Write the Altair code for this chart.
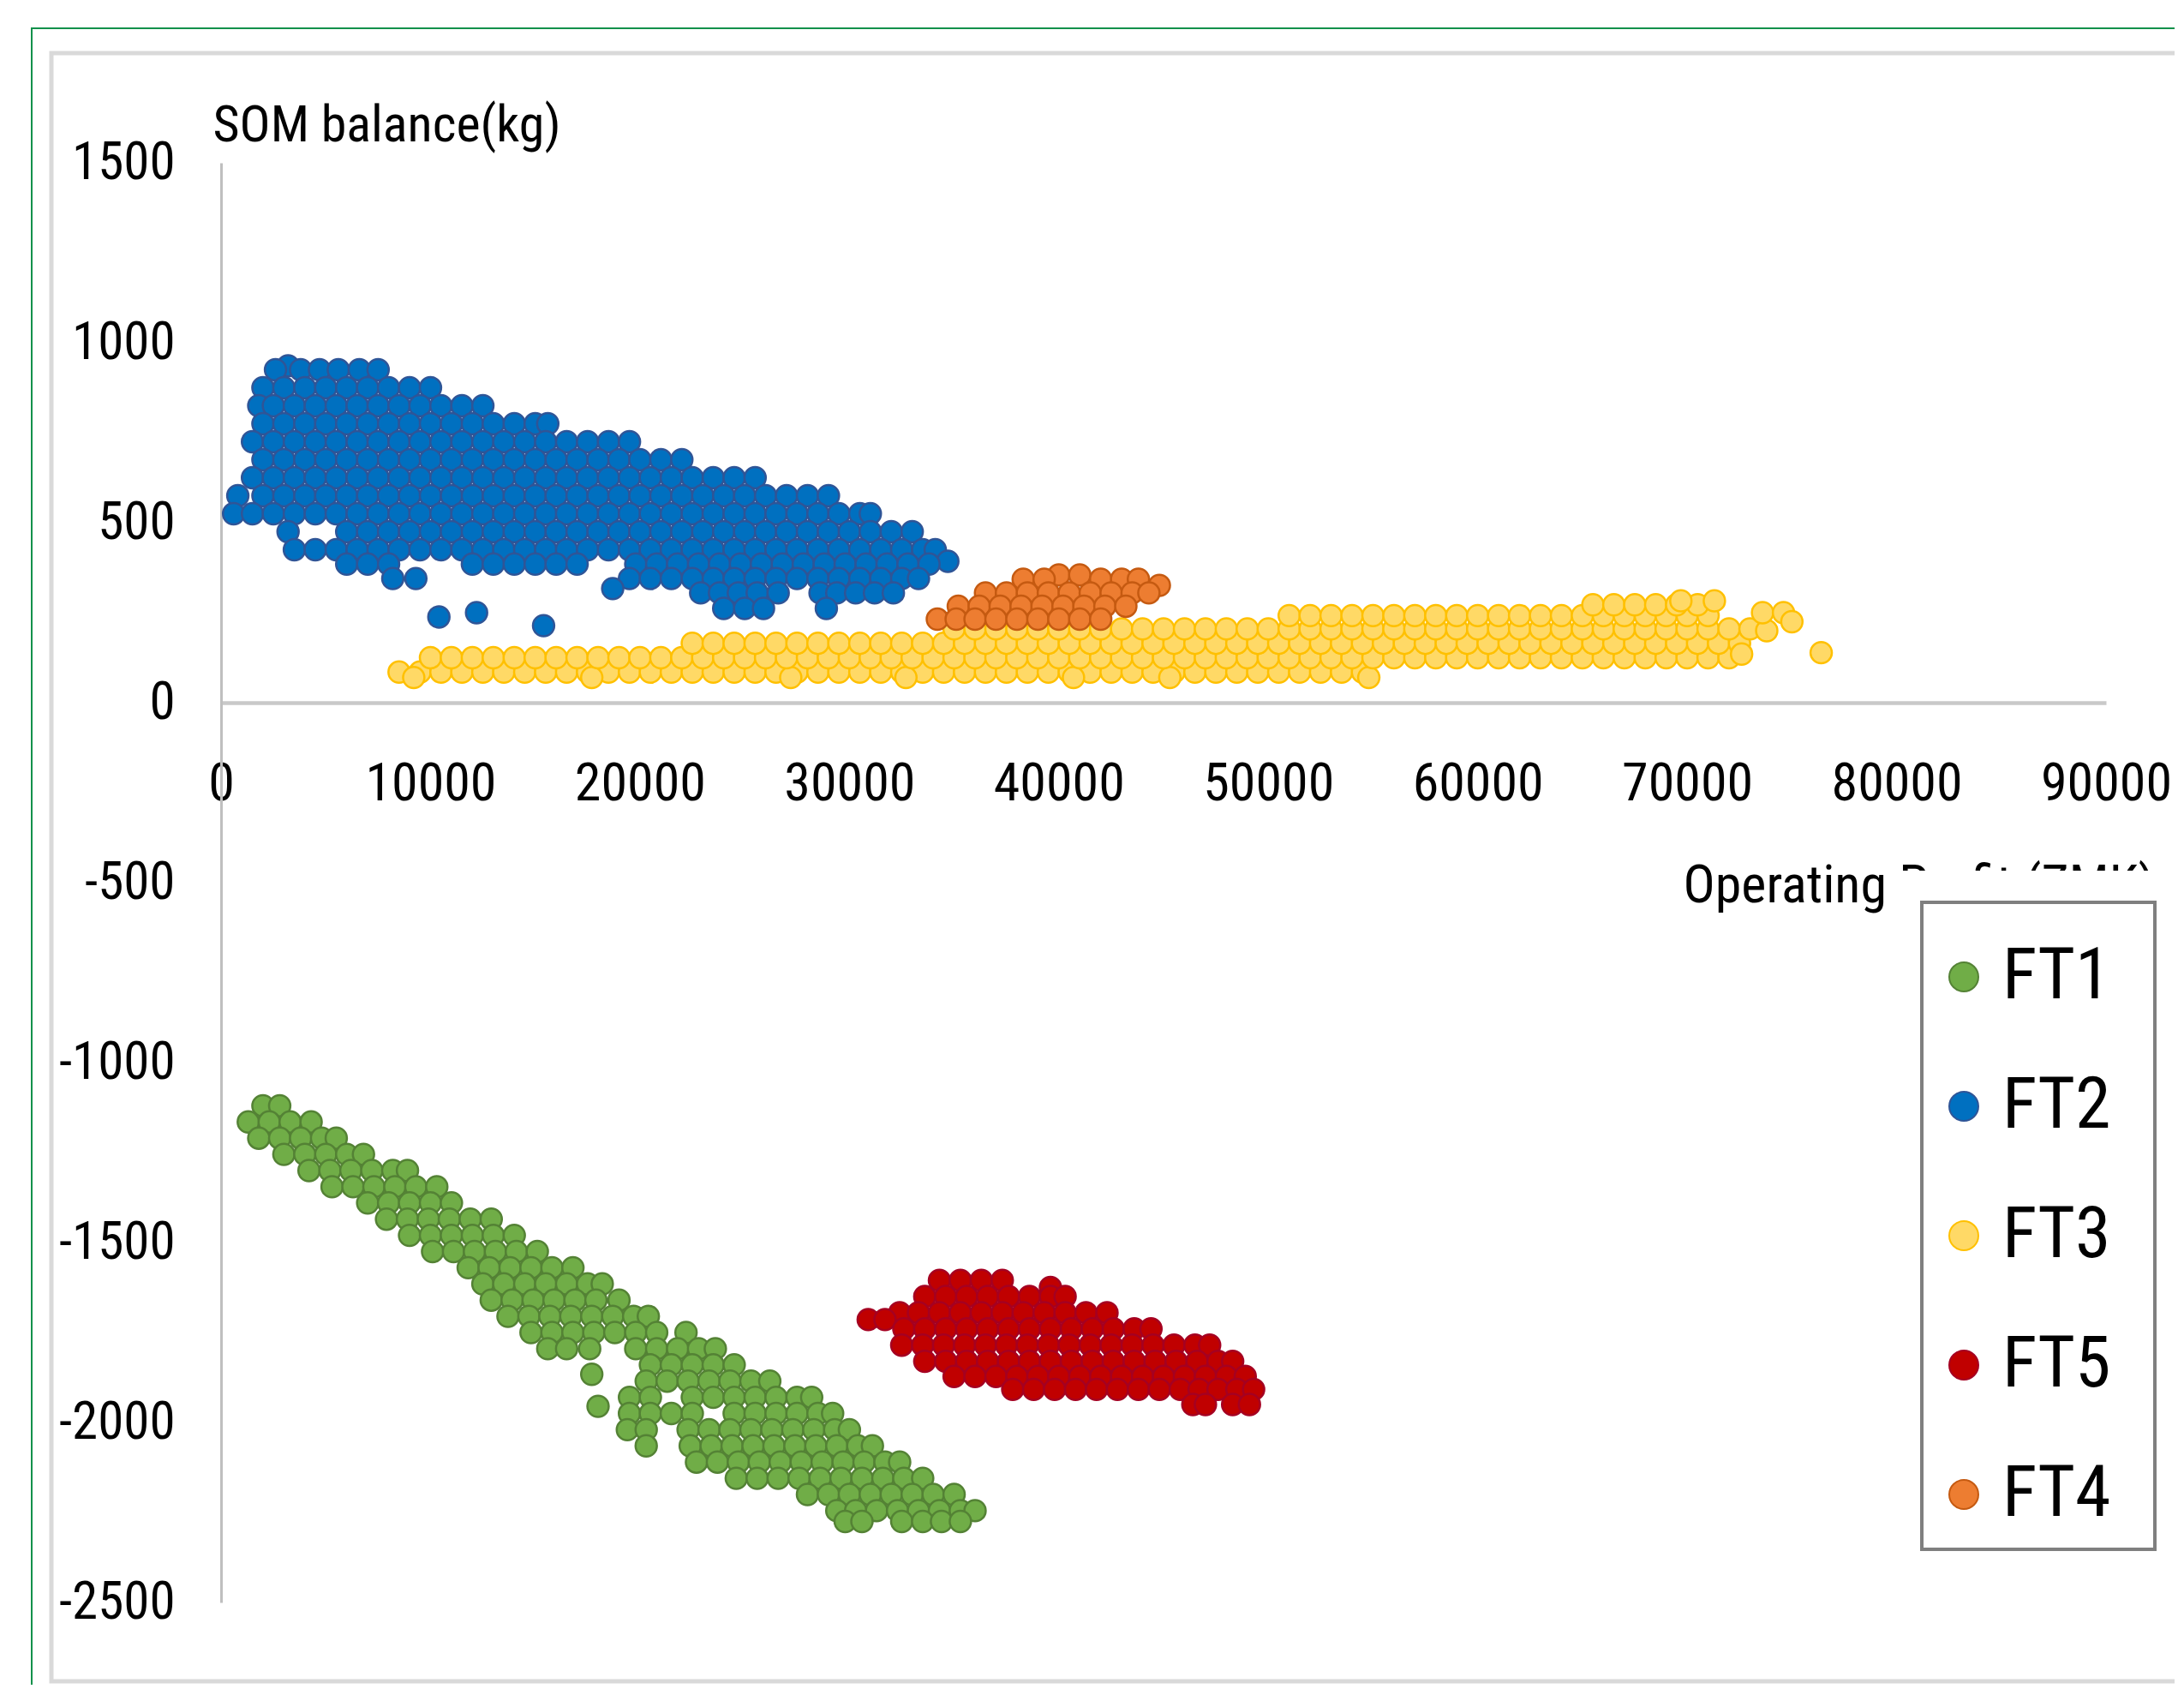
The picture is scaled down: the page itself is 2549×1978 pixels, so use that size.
import altair as alt
import pandas as pd

# ---------------- data (x values in thousand ZMK, y in kg) ----------------
SERIES_ORDER = ["FT1", "FT2", "FT3", "FT5", "FT4"]
FILL_COLORS = ["#70AD47", "#0070C0", "#FFD966", "#C00000", "#ED7D31"]
STROKE_COLORS = ["#548235", "#2F5597", "#FFC000", "#A50021", "#C55A11"]
X_TICKS = [0, 10000, 20000, 30000, 40000, 50000, 60000, 70000, 80000, 90000]
Y_TICKS = [-2500, -2000, -1500, -1000, -500, 0, 500, 1000, 1500]

FT1_ROWS = [
    (-1120, [2.0, 2.8]),
    (-1165, [1.3, 2.3, 3.3, 4.3]),
    (-1210, [1.8, 2.8, 3.8, 4.8, 5.5]),
    (-1255, [3.0, 4.0, 5.0, 6.0, 6.8]),
    (-1300, [4.2, 5.2, 6.2, 7.2, 8.2, 8.9]),
    (-1345, [5.3, 6.3, 7.3, 8.3, 9.3, 10.3]),
    (-1390, [7.0, 8.0, 9.0, 10.0, 11.0]),
    (-1435, [7.9, 8.9, 9.9, 10.9, 11.9, 12.9]),
    (-1480, [9.0, 10.0, 11.0, 12.0, 13.0, 14.0]),
    (-1525, [10.1, 11.1, 12.1, 13.1, 14.1, 15.1]),
    (-1570, [11.8, 12.8, 13.8, 14.8, 15.8, 16.8]),
    (-1615, [12.5, 13.5, 14.5, 15.5, 16.5, 17.5, 18.2]),
    (-1660, [12.9, 13.9, 14.9, 15.9, 16.9, 17.9, 19.0]),
    (-1705, [13.7, 14.7, 15.7, 16.7, 17.7, 18.7, 19.7, 20.4]),
    (-1750, [14.8, 15.8, 16.8, 17.8, 18.8, 19.8, 20.8, 22.2]),
    (-1795, [15.6, 16.5, 17.6, 19.8, 20.8, 21.8, 22.8, 23.6]),
    (-1840, [20.5, 21.5, 22.5, 23.5, 24.5]),
    (-1866, [17.7]),
    (-1885, [20.3, 21.3, 22.3, 23.3, 24.3, 25.3, 26.2]),
    (-1930, [19.5, 20.5, 22.5, 23.5, 24.5, 25.5, 26.5, 27.5, 28.2]),
    (-1955, [18.0]),
    (-1975, [19.5, 20.5, 21.5, 22.5, 24.5, 25.5, 26.5, 27.5, 28.5, 29.2]),
    (-2020, [19.4, 20.3, 22.3, 23.3, 24.3, 25.3, 26.3, 27.3, 28.3, 29.3, 30.0]),
    (-2065, [20.3, 22.4, 23.4, 24.4, 25.4, 26.4, 27.4, 28.4, 29.4, 30.4, 31.1]),
    (-2110, [22.7, 23.7, 24.7, 25.7, 26.7, 27.7, 28.7, 29.7, 30.7, 31.7, 32.4]),
    (-2155, [24.6, 25.6, 26.6, 27.6, 28.6, 29.6, 30.6, 31.6, 32.6, 33.5]),
    (-2200, [28.0, 29.0, 30.0, 31.0, 32.0, 33.0, 34.0, 35.0]),
    (-2245, [29.4, 30.3, 31.3, 32.3, 33.3, 34.3, 35.3, 36.0]),
    (-2275, [29.8, 30.6, 32.5, 33.5, 34.4, 35.3]),
]

FT2_ROWS = [
    (936, [3.2]),
    (925, [2.6, 3.8, 4.7, 5.6, 6.6, 7.5]),
    (875, [2.0, 3.0, 4.0, 5.0, 6.0, 7.0, 8.0, 9.0, 10.0]),
    (825, [1.8, 2.5, 3.5, 4.5, 5.5, 6.5, 7.5, 8.5, 9.5, 10.5, 11.5, 12.5]),
    (775, [2.0, 3.0, 4.0, 5.0, 6.0, 7.0, 8.0, 9.0, 10.0, 11.0, 12.0, 13.0, 14.0, 15.0, 15.6]),
    (725, [1.5, 2.5, 3.5, 4.5, 5.5, 6.5, 7.5, 8.5, 9.5, 10.5, 11.5, 12.5, 13.5, 14.5, 15.5, 16.5,
           17.5, 18.5, 19.5]),
    (675, [2.0, 3.0, 4.0, 5.0, 6.0, 7.0, 8.0, 9.0, 10.0, 11.0, 12.0, 13.0, 14.0, 15.0, 16.0, 17.0,
           18.0, 19.0, 20.0, 21.0, 22.0]),
    (625, [1.5, 2.5, 3.5, 4.5, 5.5, 6.5, 7.5, 8.5, 9.5, 10.5, 11.5, 12.5, 13.5, 14.5, 15.5, 16.5,
           17.5, 18.5, 19.5, 20.5, 21.5, 22.5, 23.5, 24.5, 25.5]),
    (575, [0.8, 2.0, 3.0, 4.0, 5.0, 6.0, 7.0, 8.0, 9.0, 10.0, 11.0, 12.0, 13.0, 14.0, 15.0, 16.0,
           17.0, 18.0, 19.0, 20.0, 21.0, 22.0, 23.0, 24.0, 25.0, 26.0, 27.0, 28.0, 29.0]),
    (525, [0.6, 1.5, 2.5, 3.5, 4.5, 5.5, 6.5, 7.5, 8.5, 9.5, 10.5, 11.5, 12.5, 13.5, 14.5, 15.5,
           16.5, 17.5, 18.5, 19.5, 20.5, 21.5, 22.5, 23.5, 24.5, 25.5, 26.5, 27.5, 28.5, 29.5,
           30.5, 31.0]),
    (475, [3.2, 6.0, 7.0, 8.0, 9.0, 10.0, 11.0, 12.0, 13.0, 14.0, 15.0, 16.0, 17.0, 18.0, 19.0,
           20.0, 21.0, 22.0, 23.0, 24.0, 25.0, 26.0, 27.0, 28.0, 29.0, 30.0, 31.0, 32.0, 33.0]),
    (425, [3.5, 4.5, 5.5, 6.5, 7.5, 8.5, 9.5, 10.5, 11.5, 12.5, 13.5, 14.5, 15.5, 16.5, 17.5,
           18.5, 19.5, 20.5, 21.5, 22.5, 23.5, 24.5, 25.5, 26.5, 27.5, 28.5, 29.5, 30.5, 31.5,
           32.5, 33.5, 34.1]),
    (393, [34.7]),
    (385, [6.0, 7.0, 8.0, 12.0, 13.0, 14.0, 15.0, 16.0, 17.0, 19.8, 20.8, 21.8, 22.8, 23.8, 24.8,
           25.8, 26.8, 27.8, 28.8, 29.8, 30.8, 31.8, 32.8, 33.8]),
    (345, [8.2, 9.3, 19.5, 20.5, 21.5, 22.5, 23.5, 24.5, 25.5, 26.5, 27.5, 28.5, 29.5, 30.5,
           31.5, 32.5, 33.3]),
    (317, [18.7]),
    (305, [22.9, 23.8, 24.7, 25.6, 26.6, 28.6, 29.4, 30.3, 31.2, 32.1]),
    (262, [24.0, 25.0, 25.9, 28.9]),
    (250, [12.2]),
    (238, [10.4]),
    (214, [15.4]),
]

FT3_ROWS = [
    (85, [8.5, 9.5, 10.5, 11.5, 12.5, 13.5, 14.5, 15.5, 16.5, 17.5, 18.5, 19.5, 20.5, 21.5, 22.5,
          23.5, 24.5, 25.5, 26.5, 27.5, 28.5, 29.5, 30.5, 31.5, 32.5, 33.5, 34.5, 35.5, 36.5,
          37.5, 38.5, 39.5, 40.5, 41.5, 42.5, 43.5, 44.5, 45.5, 46.5, 47.5, 48.5, 49.5, 50.5,
          51.5, 52.5, 53.5, 54.5]),
    (70, [9.2, 17.7, 27.2, 32.7, 40.7, 45.3, 54.8]),
    (125, [10.0, 11.0, 12.0, 13.0, 14.0, 15.0, 16.0, 17.0, 18.0, 19.0, 20.0, 21.0, 22.0, 23.0,
           24.0, 25.0, 26.0, 27.0, 28.0, 29.0, 30.0, 31.0, 32.0, 33.0, 34.0, 35.0, 36.0, 37.0,
           38.0, 39.0, 40.0, 41.0, 42.0, 43.0, 44.0, 45.0, 46.0, 47.0, 48.0, 49.0, 50.0, 51.0,
           52.0, 53.0, 54.0, 55.0, 56.0, 57.0, 58.0, 59.0, 60.0, 61.0, 62.0, 63.0, 64.0, 65.0,
           66.0, 67.0, 68.0, 69.0, 70.0, 71.0, 72.0]),
    (165, [22.5, 23.5, 24.5, 25.5, 26.5, 27.5, 28.5, 29.5, 30.5, 31.5, 32.5, 33.5, 34.5, 35.5,
           36.5, 37.5, 38.5, 39.5, 40.5, 41.5, 42.5, 43.5, 44.5, 45.5, 46.5, 47.5, 48.5, 49.5,
           50.5, 51.5, 52.5, 53.5, 54.5, 55.5, 56.5, 57.5, 58.5, 59.5, 60.5, 61.5, 62.5, 63.5,
           64.5, 65.5, 66.5, 67.5, 68.5, 69.5, 70.5, 71.5, 72.5]),
    (205, [35.0, 36.0, 37.0, 38.0, 39.0, 40.0, 41.0, 42.0, 43.0, 44.0, 45.0, 46.0, 47.0, 48.0,
           49.0, 50.0, 51.0, 52.0, 53.0, 54.0, 55.0, 56.0, 57.0, 58.0, 59.0, 60.0, 61.0, 62.0,
           63.0, 64.0, 65.0, 66.0, 67.0, 68.0, 69.0, 70.0, 71.0, 72.0, 73.0]),
    (242, [51.0, 52.0, 53.0, 54.0, 55.0, 56.0, 57.0, 58.0, 59.0, 60.0, 61.0, 62.0, 63.0, 64.0,
           65.0, 66.0, 67.0, 68.0, 69.0, 70.0, 71.0]),
    (272, [65.5, 66.5, 67.5, 68.5, 69.5, 70.5]),
    (283, [69.7, 71.3]),
    (200, [73.8]),
    (250, [73.6, 74.6]),
    (225, [75.0]),
    (135, [72.6]),
    (139, [76.4]),
]

FT5_ROWS = [
    (-1605, [34.3, 35.3, 36.3, 37.3]),
    (-1625, [39.6]),
    (-1650, [33.6, 34.6, 35.6, 36.6, 37.6, 38.6, 39.6, 40.3]),
    (-1695, [32.4, 33.3, 34.3, 35.3, 36.3, 37.3, 38.3, 39.3, 40.3, 41.3, 42.3]),
    (-1714, [30.9, 31.7]),
    (-1740, [32.6, 33.6, 34.6, 35.6, 36.6, 37.6, 38.6, 39.6, 40.6, 41.6, 42.6, 43.6, 44.4]),
    (-1785, [32.5, 33.5, 34.5, 35.5, 36.5, 37.5, 38.5, 39.5, 40.5, 41.5, 42.5, 43.5, 44.5, 45.5,
             46.5, 47.2]),
    (-1830, [33.6, 34.6, 35.6, 36.6, 37.6, 38.6, 39.6, 40.6, 41.6, 42.6, 43.6, 44.6, 45.6, 46.6,
             47.6, 48.3]),
    (-1872, [35.0, 36.0, 37.0, 38.0, 39.0, 40.0, 41.0, 42.0, 43.0, 44.0, 45.0, 46.0, 47.0, 48.0,
             48.9]),
    (-1908, [37.8, 38.8, 39.8, 40.8, 41.8, 42.8, 43.8, 44.8, 45.8, 46.7, 47.6, 48.5, 49.3]),
    (-1950, [46.4, 47.0, 48.3, 49.1]),
]

FT4_ROWS = [
    (355, [40.0, 41.0]),
    (343, [38.3, 39.3, 42.0, 43.0, 43.8]),
    (326, [44.8]),
    (305, [36.5, 37.5, 38.5, 39.5, 40.5, 41.5, 42.5, 43.5, 44.3]),
    (268, [35.2, 36.2, 37.2, 38.2, 39.2, 40.2, 41.2, 42.2, 43.2]),
    (232, [34.2, 35.1, 36.0, 37.0, 38.0, 39.0, 40.0, 41.0, 42.0]),
]

# ---------------- build table (drawing order = Excel series order) ----------------
records = []
for name, rows in (("FT1", FT1_ROWS), ("FT2", FT2_ROWS), ("FT3", FT3_ROWS),
                   ("FT5", FT5_ROWS), ("FT4", FT4_ROWS)):
    for som, profits in rows:
        for p in profits:
            records.append({"Farm type": name, "Operating Profit": p * 1000, "SOM balance": som})
df = pd.DataFrame(records)

FONT = "Roboto Condensed, Liberation Sans Narrow, Arial Narrow, sans-serif"
BLANK = alt.Data(values=[{}])

LEGEND = alt.Legend(
    title=None, orient="none", legendX=1992, legendY=908, direction="vertical",
    padding=0, symbolType="circle", symbolSize=1156, symbolStrokeWidth=2,
    labelFont=FONT, labelFontSize=84, labelColor="#000000", labelOffset=3,
    rowPadding=67, zindex=1,
)

points = alt.Chart(df).mark_point(
    shape="circle", filled=True, size=620, strokeWidth=2.5, opacity=1
).encode(
    x=alt.X(
        "Operating Profit:Q",
        scale=alt.Scale(domain=[0, 90000], nice=False, zero=False),
        axis=alt.Axis(
            values=X_TICKS, title="Operating Profit (ZMK)",
            titleX=1706, titleY=232, titleAlign="left", titleBaseline="alphabetic",
            titleFont=FONT, titleFontSize=62, titleFontWeight="normal", titleColor="#000000",
            labelFont=FONT, labelFontSize=62, labelColor="#000000", labelPadding=64,
            labelExpr="datum.value + ''", labelOverlap=False, labelFlush=False,
            ticks=False, grid=False, domainColor="#C9C9C9", domainWidth=4.5,
            offset=-1050, zindex=0,
        ),
    ),
    y=alt.Y(
        "SOM balance:Q",
        scale=alt.Scale(domain=[-2500, 1500], nice=False, zero=False),
        axis=alt.Axis(
            values=Y_TICKS, title="SOM balance(kg)",
            titleX=-10, titleY=-26, titleAngle=0, titleAlign="left", titleBaseline="alphabetic",
            titleFont=FONT, titleFontSize=60, titleFontWeight="normal", titleColor="#000000",
            labelFont=FONT, labelFontSize=61, labelColor="#000000", labelPadding=54,
            labelExpr="datum.value + ''", labelOverlap=False, labelFlush=False,
            ticks=False, grid=False, domainColor="#BFBFBF", domainWidth=3, zindex=0,
        ),
    ),
    fill=alt.Fill(
        "Farm type:N",
        scale=alt.Scale(domain=SERIES_ORDER, range=FILL_COLORS),
        legend=LEGEND,
    ),
    stroke=alt.Stroke(
        "Farm type:N",
        scale=alt.Scale(domain=SERIES_ORDER, range=STROKE_COLORS),
        legend=LEGEND,
    ),
)

frame_green = alt.Chart(BLANK).mark_rect(
    fill="transparent", stroke="#13914B", strokeWidth=2
).encode(x=alt.value(-221), x2=alt.value(2400), y=alt.value(-157), y2=alt.value(1900))

frame_gray = alt.Chart(BLANK).mark_rect(
    fill="transparent", stroke="#D9D9D9", strokeWidth=5
).encode(x=alt.value(-198), x2=alt.value(2400), y=alt.value(-128), y2=alt.value(1772))

cover = alt.Chart(BLANK).mark_rect(fill="#FFFFFF", strokeWidth=0).encode(
    x=alt.value(1950), x2=alt.value(2300), y=alt.value(826), y2=alt.value(863)
)

legend_box = alt.Chart(BLANK).mark_rect(
    fill="#FFFFFF", stroke="#7F7F7F", strokeWidth=4
).encode(x=alt.value(1985), x2=alt.value(2257), y=alt.value(863), y2=alt.value(1618))

chart = alt.layer(frame_green, frame_gray, points, cover, legend_box).properties(
    width=2200,
    height=1680,
    autosize=alt.AutoSizeParams(type="none"),
    padding={"left": 250, "top": 182, "right": 80, "bottom": 96},
    background="#FFFFFF",
).configure_view(strokeWidth=0)

chart.save("out.html", embed_options={"renderer": "svg", "actions": False})
